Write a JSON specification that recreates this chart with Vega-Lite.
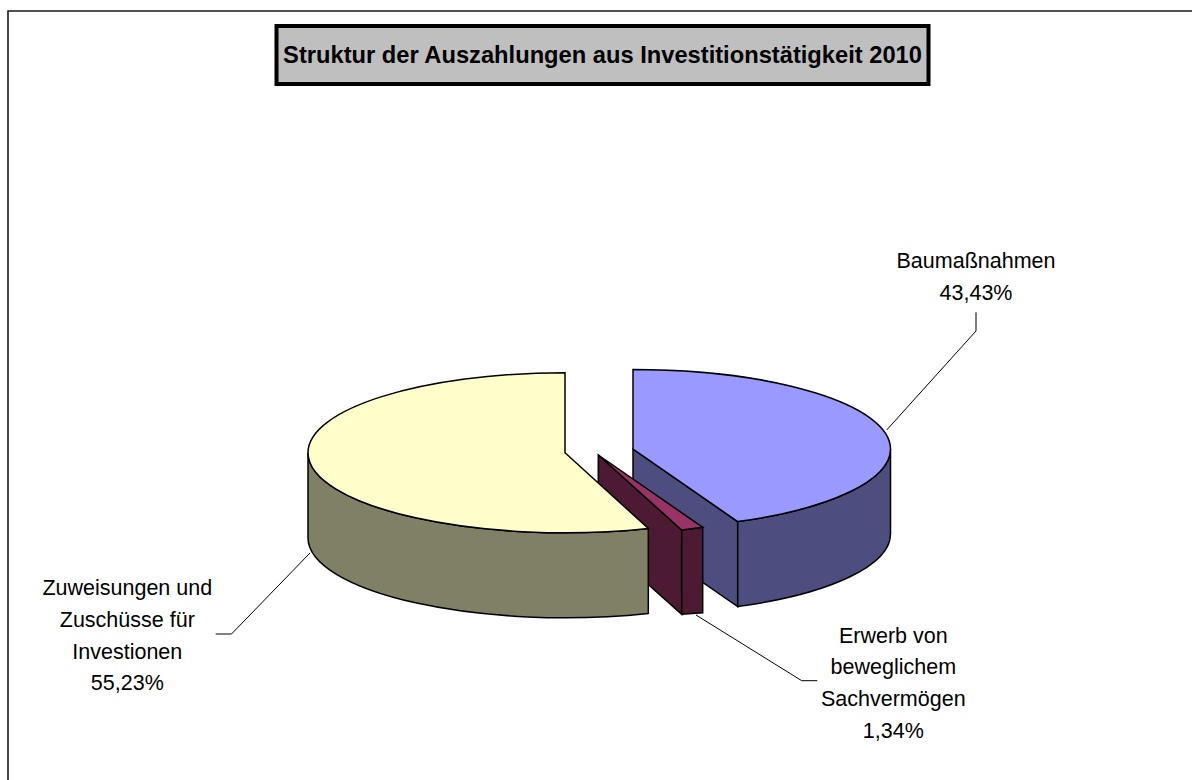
{"$schema":"https://vega.github.io/schema/vega-lite/v6.json","width":1192,"height":780,"padding":0,"autosize":{"type":"none"},"background":"white","config":{"view":{"stroke":null}},"title":{"text":"Struktur der Auszahlungen aus Investitionstätigkeit 2010","anchor":"middle","orient":"top","offset":-87,"dx":6.5,"baseline":"alphabetic","font":"Liberation Sans","fontSize":23.7,"fontWeight":"bold","color":"black"},"data":{"values":[{"category":"Baumaßnahmen","share":43.43,"label":"Baumaßnahmen\n43,43%"},{"category":"Erwerb von beweglichem Sachvermögen","share":1.34,"label":"Erwerb von\nbeweglichem\nSachvermögen\n1,34%"},{"category":"Zuweisungen und Zuschüsse für Investionen","share":55.23,"label":"Zuweisungen und\nZuschüsse für\nInvestionen\n55,23%"}]},"layer":[{"transform":[{"filter":"datum.share == 43.43"}],"mark":{"type":"point","size":4,"opacity":1,"filled":false,"stroke":"#1a1a1a","strokeWidth":1.6,"shape":"M-588 390 L-588 -379 L596 -379"},"encoding":{}},{"transform":[{"filter":"datum.share == 43.43"}],"mark":{"type":"point","size":4,"opacity":1,"filled":true,"fill":"#BFBFBF","stroke":"black","strokeWidth":4,"shape":"M-319.5 -364 L332.5 -364 L332.5 -306 L-319.5 -306 Z"},"encoding":{}},{"transform":[{"filter":"datum.share == 43.43"}],"mark":{"type":"point","size":4,"opacity":1,"filled":false,"stroke":"black","strokeWidth":1,"shape":"M290.7 40 L380 -59 L380 -77.7"},"encoding":{}},{"transform":[{"filter":"datum.share == 1.34"}],"mark":{"type":"point","size":4,"opacity":1,"filled":false,"stroke":"black","strokeWidth":1,"shape":"M100 225 L205.7 290.7 L221.3 290.7"},"encoding":{}},{"transform":[{"filter":"datum.share == 55.23"}],"mark":{"type":"point","size":4,"opacity":1,"filled":false,"stroke":"black","strokeWidth":1,"shape":"M-286 163 L-364.5 244 L-380.3 244"},"encoding":{}},{"transform":[{"filter":"datum.share == 43.43"}],"mark":{"type":"point","size":4,"opacity":1,"filled":true,"fill":"#4D4D80","stroke":"black","strokeWidth":1.5,"shape":"M37 59 L141.7 131.6 L141.7 216.6 L37 144 Z"},"encoding":{}},{"transform":[{"filter":"datum.share == 43.43"}],"mark":{"type":"point","size":4,"opacity":1,"filled":true,"fill":"#4D4D80","stroke":"black","strokeWidth":1.5,"shape":"M141.7 131.6 A257.5 79.5 0 0 0 294.5 59 L294.5 144 A257.5 79.5 0 0 1 141.7 216.6 Z"},"encoding":{}},{"transform":[{"filter":"datum.share == 43.43"}],"mark":{"type":"point","size":4,"opacity":1,"filled":true,"fill":"#9999FF","stroke":"black","strokeWidth":1.5,"shape":"M37 59 L37 -20.5 A257.5 79.5 0 0 1 294.5 59 A257.5 79.5 0 0 1 141.7 131.6 Z"},"encoding":{}},{"transform":[{"filter":"datum.share == 1.34"}],"mark":{"type":"point","size":4,"opacity":1,"filled":true,"fill":"#4D1A33","stroke":"black","strokeWidth":1.5,"shape":"M2.3 65 L85.7 140 L85.7 224.3 L2.3 150 Z"},"encoding":{}},{"transform":[{"filter":"datum.share == 1.34"}],"mark":{"type":"point","size":4,"opacity":1,"filled":true,"fill":"#4D1A33","stroke":"black","strokeWidth":1.5,"shape":"M85.7 140 L106.7 137.3 L106.7 222.7 L85.7 224.3 Z"},"encoding":{}},{"transform":[{"filter":"datum.share == 1.34"}],"mark":{"type":"point","size":4,"opacity":1,"filled":true,"fill":"#993366","stroke":"black","strokeWidth":1.5,"shape":"M2.3 65 L106.7 137.3 L85.7 140 Z"},"encoding":{}},{"transform":[{"filter":"datum.share == 55.23"}],"mark":{"type":"point","size":4,"opacity":1,"filled":true,"fill":"#808066","stroke":"black","strokeWidth":1.5,"shape":"M-288 62.7 L-288 147.7 A257 80 0 0 0 52.3 223.4 L52.3 138.4 A257 80 0 0 1 -288 62.7 Z"},"encoding":{}},{"transform":[{"filter":"datum.share == 55.23"}],"mark":{"type":"point","size":4,"opacity":1,"filled":true,"fill":"#FFFFCC","stroke":"black","strokeWidth":1.5,"shape":"M-31 62.7 L-31 -17.3 A257 80 0 0 0 -288 62.7 A257 80 0 0 0 52.3 138.4 Z"},"encoding":{}},{"mark":{"type":"text","font":"Liberation Sans","fontSize":21.5,"lineBreak":"\n","lineHeight":31.8,"align":"center","baseline":"alphabetic","color":"black"},"encoding":{"text":{"field":"label","type":"nominal"},"x":{"field":"share","type":"quantitative","axis":null,"scale":{"domain":[1.34,43.43,55.23],"range":[893.3,976,127.3],"zero":false,"nice":false}},"y":{"field":"share","type":"quantitative","axis":null,"scale":{"domain":[1.34,43.43,55.23],"range":[642.7,268,595],"zero":false,"nice":false}}}}]}
